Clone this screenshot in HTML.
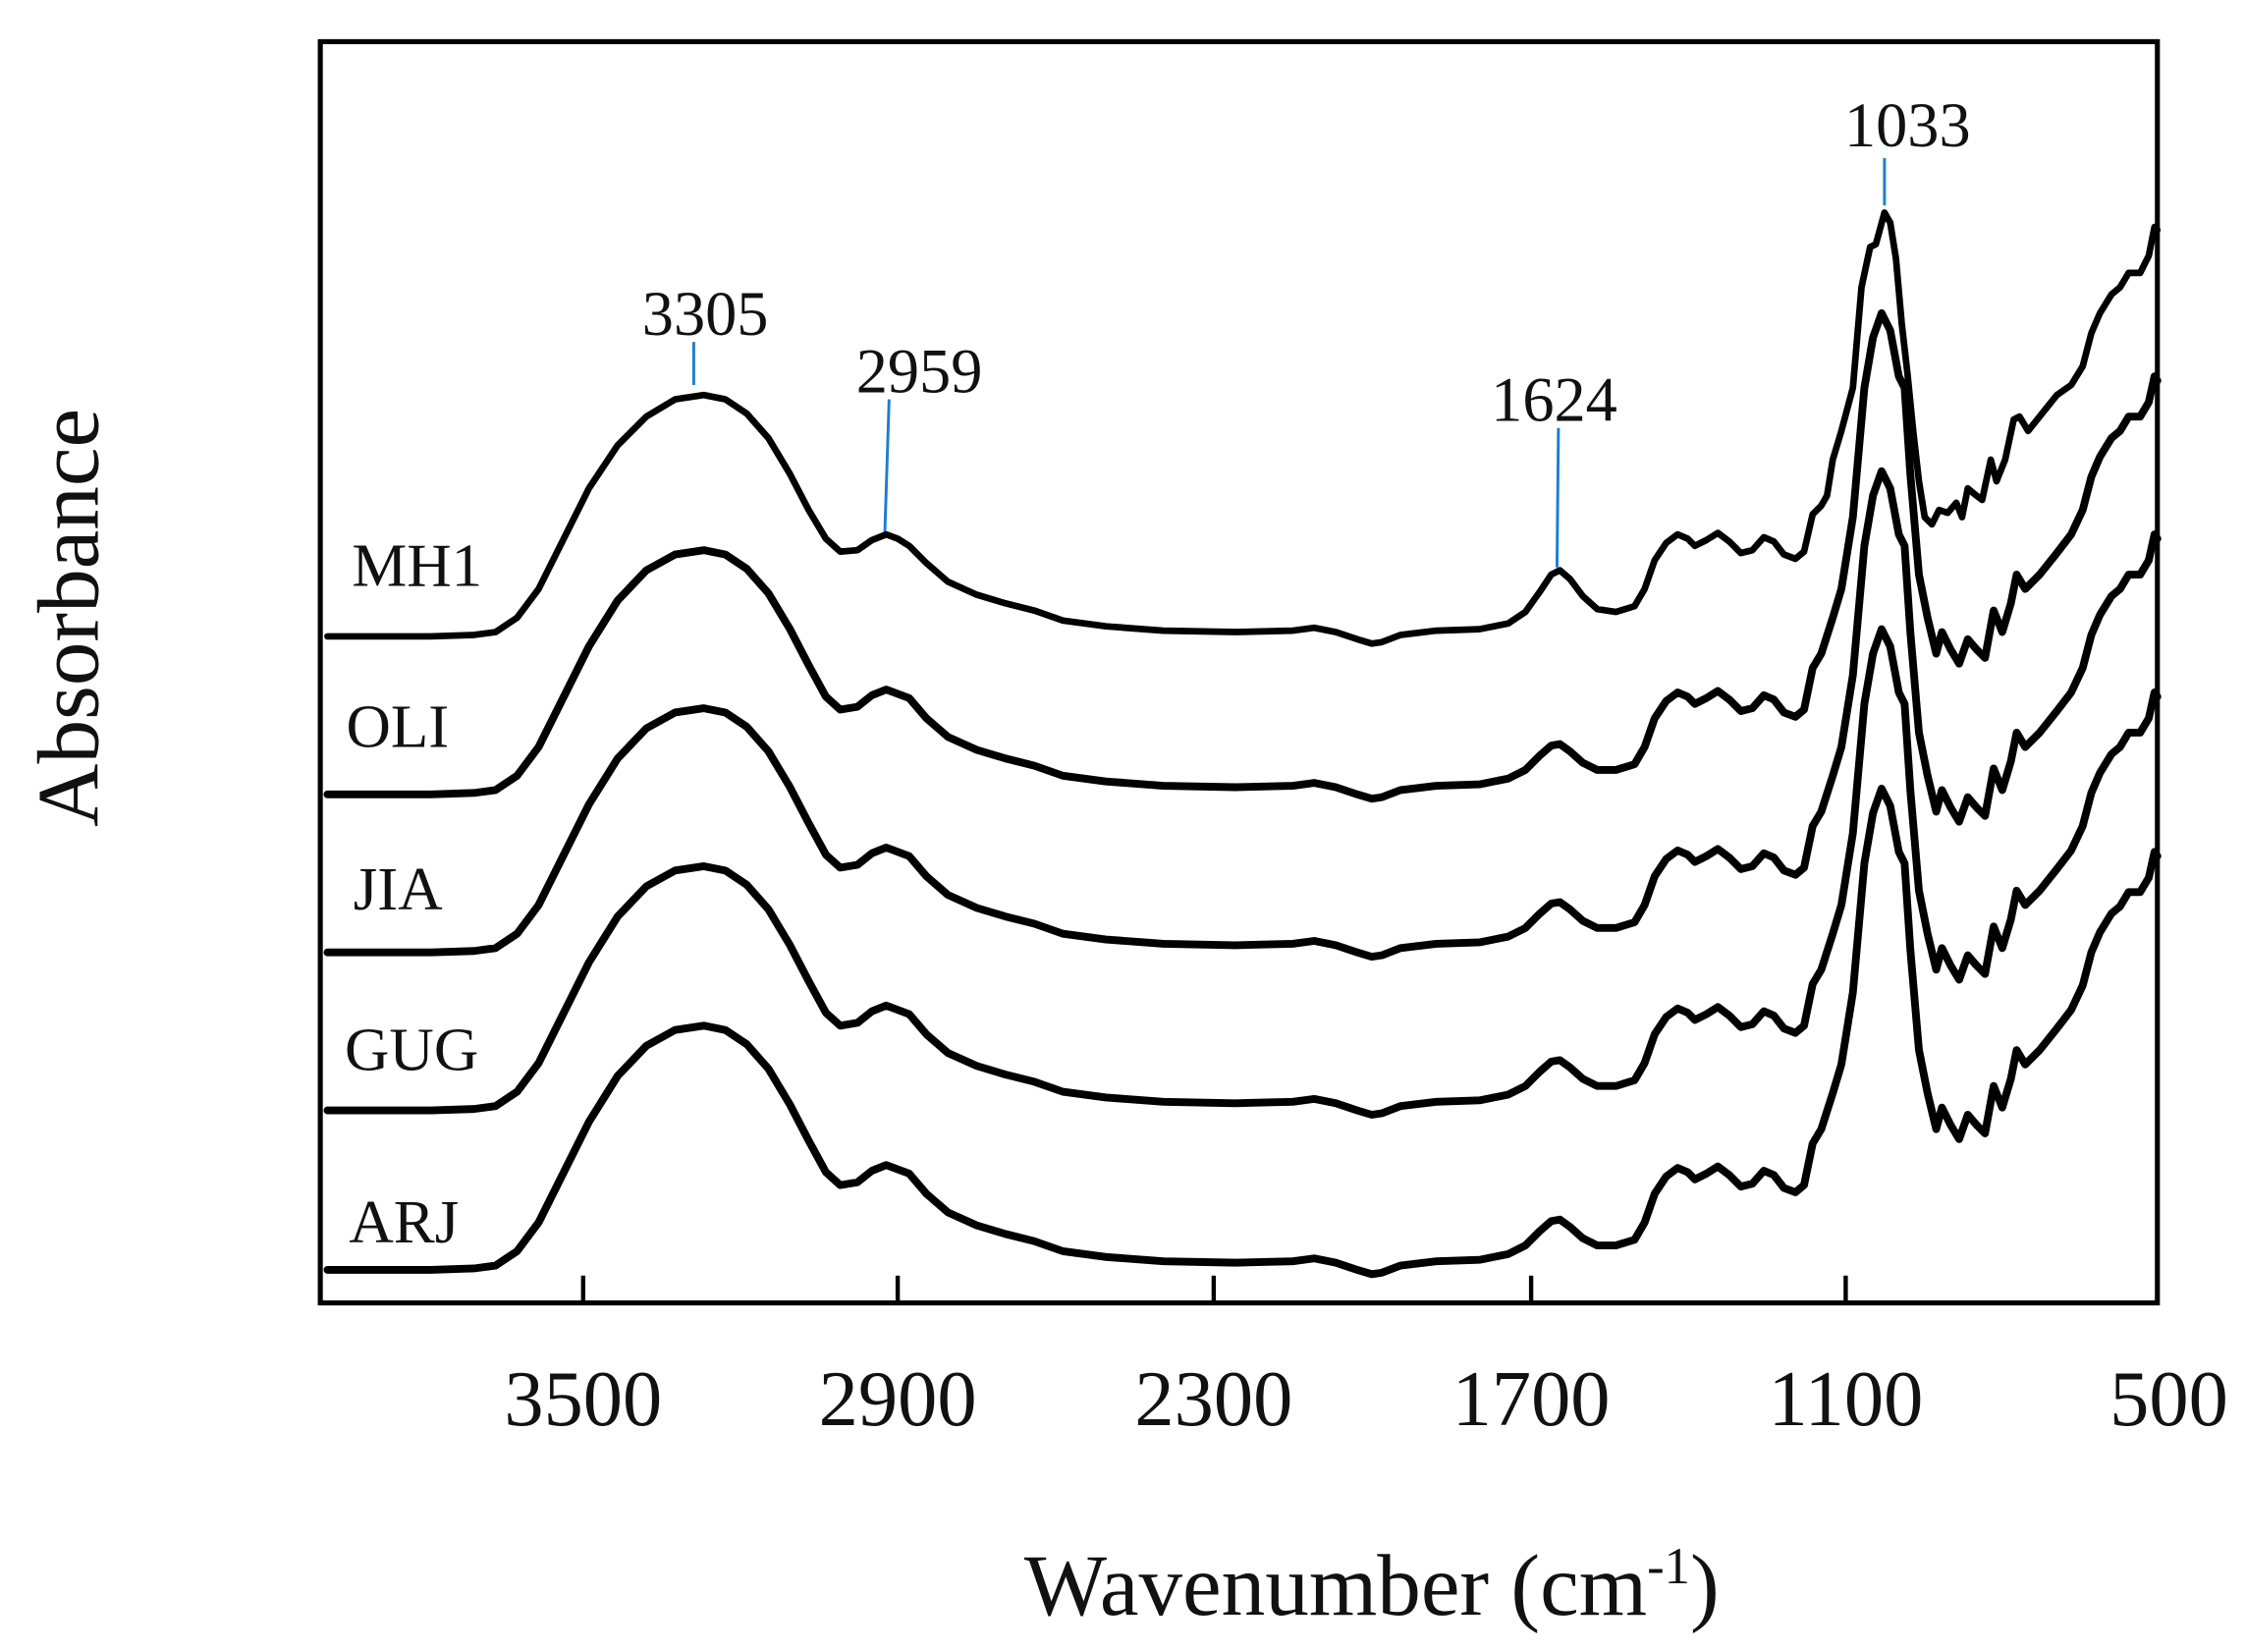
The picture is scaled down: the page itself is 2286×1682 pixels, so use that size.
<!DOCTYPE html>
<html><head><meta charset="utf-8"><style>
html,body{margin:0;padding:0;background:#fff;}
svg{display:block;}
text{font-family:"Liberation Serif",serif;fill:#111;}
</style></head><body>
<svg width="2286" height="1682" viewBox="0 0 1563 1150" preserveAspectRatio="none" xmlns="http://www.w3.org/2000/svg">
<rect x="0" y="0" width="1563" height="1150" fill="#fff"/>
<rect x="223" y="29" width="1279" height="878" fill="none" stroke="#000" stroke-width="3.5"/>
<g stroke="#000" stroke-width="3">
<line x1="406" y1="907" x2="406" y2="888"/>
<line x1="625" y1="907" x2="625" y2="888"/>
<line x1="845" y1="907" x2="845" y2="888"/>
<line x1="1066" y1="907" x2="1066" y2="888"/>
<line x1="1285" y1="907" x2="1285" y2="888"/>
</g>
<g font-size="55" text-anchor="middle">
<text x="406" y="992">3500</text>
<text x="625" y="992">2900</text>
<text x="845" y="992">2300</text>
<text x="1066" y="992">1700</text>
<text x="1285" y="992">1100</text>
<text x="1510" y="992">500</text>
</g>
<text x="955" y="1124" font-size="61" text-anchor="middle">Wavenumber (cm<tspan font-size="36" dy="-22">-1</tspan><tspan dy="22">)</tspan></text>
<text transform="translate(68,430) rotate(-90)" font-size="61" text-anchor="middle">Absorbance</text>

<g font-size="43">
<text x="245" y="408">MH1</text>
<text x="241" y="520">OLI</text>
<text x="246" y="633">JIA</text>
<text x="240" y="745">GUG</text>
<text x="243" y="865">ARJ</text>
</g>

<g font-size="44" text-anchor="middle">
<text x="491" y="233">3305</text>
<text x="640" y="273">2959</text>
<text x="1082" y="293">1624</text>
<text x="1328" y="102">1033</text>
</g>
<g stroke="#1a7fd0" stroke-width="2">
<line x1="483" y1="238" x2="483" y2="268"/>
<line x1="619" y1="278" x2="616" y2="372"/>
<line x1="1085" y1="298" x2="1084" y2="395"/>
<line x1="1312" y1="110" x2="1312" y2="143"/>
</g>

<g fill="none" stroke="#000" stroke-linejoin="round" stroke-linecap="round">
<polyline stroke-width="4.6" points="228,443 260,443 300,443 330,442 345,440 360,430 375,410 390,380 410,340 430,310 450,290 470,278 490,275 505,278 520,288 535,305 550,330 563,355 575,375 585,384 597,383 607,376 617,372 625,375 633,380 645,392 660,405 680,414 700,420 720,425 740,432 770,436 810,439 860,440 900,439 915,437 930,440 945,445 955,448 962,447 975,442 1000,439 1030,438 1050,434 1062,426 1072,412 1080,400 1086,397 1093,403 1102,415 1112,424 1125,426 1138,422 1145,410 1152,390 1160,378 1168,372 1175,375 1180,380 1188,376 1196,371 1204,377 1212,385 1220,383 1228,374 1235,377 1242,386 1250,389 1256,384 1262,358 1268,352 1272,345 1276,320 1282,300 1290,270 1296,200 1302,172 1306,170 1312,148 1316,155 1320,180 1324,225 1328,260 1332,300 1336,335 1340,360 1345,365 1350,355 1356,357 1362,350 1366,360 1370,340 1376,345 1380,348 1386,320 1390,335 1396,320 1402,292 1406,290 1412,300 1420,290 1432,275 1442,268 1450,255 1456,232 1462,218 1470,205 1476,200 1482,190 1490,190 1496,178 1500,158 1502,160"/>
<g id="oli" stroke-width="5.4">
<polyline points="228,553 260,553 300,553 330,552 345,550 360,540 375,520 390,490 410,450 430,418 450,397 470,386 490,383 505,386 520,396 535,413 550,438 563,463 575,485 585,494 597,492 607,484 617,480 625,483 633,486 645,500 660,513 680,522 700,528 720,533 740,540 770,544 810,547 860,548 900,547 915,545 930,548 945,553 955,556 962,555 975,550 1000,547 1030,546 1050,542 1062,536 1072,526 1080,519 1086,518 1093,523 1102,531 1112,536 1125,536 1138,532 1145,520 1152,500 1160,488 1168,482 1175,485 1180,490 1188,486 1196,481 1204,487 1212,495 1220,493 1228,484 1235,487 1242,496 1250,499 1256,494 1262,465 1268,455 1276,430 1282,410 1290,360 1298,270 1304,235 1310,218 1316,230 1322,262 1326,270 1330,330 1336,400 1342,430 1348,455 1352,440 1358,452 1364,462 1370,445 1376,452 1382,458 1388,425 1394,440 1400,420 1404,400 1410,410 1420,400 1432,385 1442,372 1450,355 1456,332 1462,318 1470,305 1476,300 1482,290 1490,290 1496,280 1500,262 1502,265"/>
</g>
<use href="#oli" transform="translate(0,110)"/>
<use href="#oli" transform="translate(0,220)"/>
<use href="#oli" transform="translate(0,331)"/>
</g>
</svg>
</body></html>
